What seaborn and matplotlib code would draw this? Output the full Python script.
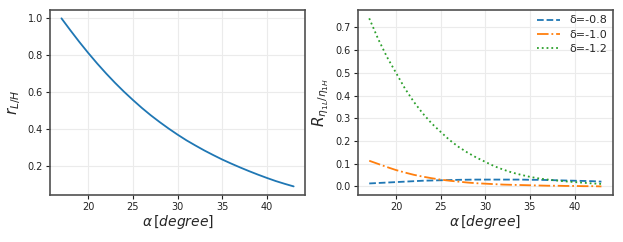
import numpy as np
import pandas as pd
import matplotlib
matplotlib.use("Agg")
import matplotlib.pyplot as plt
import seaborn as sns

# Values
alpha = [17, 18, 19, 20, 21, 22, 23, 24, 25, 26, 27, 28, 29, 30,
         31, 32, 33, 34, 35, 36, 37, 38, 39, 40, 41, 42, 43]
r_lh = [1.0, 0.935, 0.872, 0.812, 0.755, 0.701, 0.650, 0.602, 0.557, 0.514,
        0.474, 0.437, 0.402, 0.369, 0.338, 0.310, 0.283, 0.258, 0.234, 0.212,
        0.191, 0.171, 0.152, 0.134, 0.117, 0.102, 0.088]
r_d08 = [0.013, 0.015, 0.017, 0.019, 0.021, 0.023, 0.025, 0.026, 0.027, 0.028,
         0.029, 0.0295, 0.030, 0.030, 0.030, 0.030, 0.030, 0.030, 0.029, 0.029,
         0.028, 0.027, 0.026, 0.025, 0.024, 0.023, 0.021]
r_d10 = [0.113, 0.099, 0.085, 0.072, 0.061, 0.051, 0.043, 0.036, 0.030, 0.025,
         0.021, 0.017, 0.014, 0.012, 0.010, 0.008, 0.007, 0.006, 0.005, 0.004,
         0.003, 0.003, 0.002, 0.002, 0.001, 0.001, 0.0]
r_d12 = [0.74, 0.649, 0.569, 0.50, 0.431, 0.372, 0.321, 0.277, 0.24, 0.204,
         0.174, 0.149, 0.127, 0.108, 0.089, 0.074, 0.061, 0.051, 0.042, 0.035,
         0.030, 0.026, 0.022, 0.019, 0.016, 0.013, 0.011]
deltas = ['δ=-0.8', 'δ=-1.0', 'δ=-1.2']

sns.set_style("whitegrid", {
    "axes.edgecolor": "#505050",
    "grid.color": "#ebebeb",
    "xtick.bottom": True,
    "ytick.left": True,
    "xtick.color": "#222222",
    "ytick.color": "#222222",
})
plt.rcParams['font.family'] = ['DejaVu Sans']

fig, (ax1, ax2) = plt.subplots(1, 2, figsize=(6.23, 2.42), dpi=100)
fig.subplots_adjust(left=0.08, right=0.984, top=0.959, bottom=0.195, wspace=0.205)

left_df = pd.DataFrame({'alpha': alpha, 'r': r_lh})
sns.lineplot(data=left_df, x='alpha', y='r', ax=ax1, color='#1f77b4', linewidth=1.3)
ax1.set_ylabel(r'$r_{L/H}$', fontsize=11, labelpad=3)

right_df = pd.DataFrame({
    'alpha': alpha * 3,
    'R': r_d08 + r_d10 + r_d12,
    'delta': [deltas[0]] * len(alpha) + [deltas[1]] * len(alpha) + [deltas[2]] * len(alpha),
})
styles = {'δ=-0.8': '--', 'δ=-1.0': '-.', 'δ=-1.2': ':'}
colors = {'δ=-0.8': '#1f77b4', 'δ=-1.0': '#ff7f0e', 'δ=-1.2': '#2ca02c'}
for d in deltas:
    sub = right_df[right_df['delta'] == d]
    sns.lineplot(data=sub, x='alpha', y='R', ax=ax2, color=colors[d],
                 linestyle=styles[d], linewidth=1.3, label=d)
ax2.set_ylabel(r'$R_{\eta_{1L}/\eta_{1H}}$', fontsize=11, labelpad=3)
ax2.legend(frameon=False, fontsize=8, loc='upper right', handlelength=2.0,
           labelspacing=0.4, borderaxespad=0.1, handletextpad=0.9)

for ax in (ax1, ax2):
    ax.set_xlabel(r'$\alpha\,[degree]$', fontsize=10, labelpad=1)
    ax.tick_params(labelsize=7, length=3, width=0.8, pad=2)
    ax.set_xticks([20, 25, 30, 35, 40])
    ax.margins(x=0.05, y=0.05)
    for s in ax.spines.values():
        s.set_linewidth(1.2)
ax1.set_yticks([0.2, 0.4, 0.6, 0.8, 1.0])
ax2.set_yticks([0.0, 0.1, 0.2, 0.3, 0.4, 0.5, 0.6, 0.7])

fig.savefig('out.png', dpi=100)
